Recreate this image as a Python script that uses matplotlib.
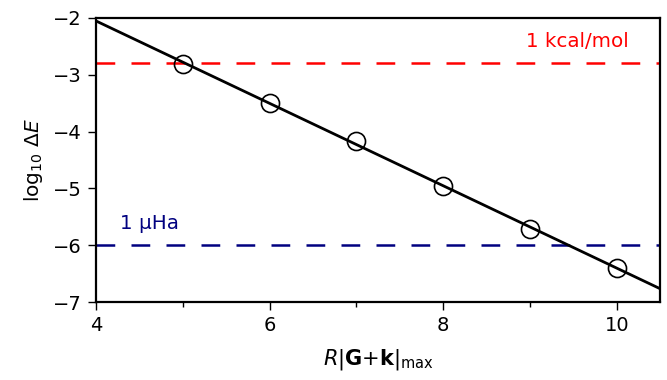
import numpy as np
import matplotlib
matplotlib.use("Agg")
import matplotlib.pyplot as plt
from matplotlib.ticker import MultipleLocator

# data
x_vals = [5, 6, 7, 8, 9, 10]
log_dE = [-2.81, -3.50, -4.17, -4.96, -5.71, -6.40]
kcal_level = -2.80
uha_level = -6.0
x_range = [4, 10.5]
xticks = [4, 6, 8, 10]
yticks = [-7, -6, -5, -4, -3, -2]

fig = plt.figure(figsize=(6.67, 3.8), dpi=100)
ax = fig.add_axes([0.144, 0.205, 0.846, 0.748])

coef = np.polyfit(x_vals, log_dE, 1)
xl = np.array(x_range)
ax.plot(xl, np.polyval(coef, xl), color='black', lw=2.0, zorder=3)
ax.plot(x_vals, log_dE, 'o', ms=13, mfc='none', mec='black', mew=1.2, zorder=4)

ax.axhline(kcal_level, color='red', lw=1.8, dashes=(7.5, 6.5), zorder=2)
ax.axhline(uha_level, color='navy', lw=1.8, dashes=(7.5, 6.5), zorder=2)
ax.text(9.54, -2.42, '1 kcal/mol', color='red', fontsize=14.3, ha='center', va='center')
ax.text(4.61, -5.62, '1 μHa', color='navy', fontsize=14.3, ha='center', va='center')

ax.set_xlim(*x_range)
ax.set_ylim(-7, -2)
ax.set_xticks(xticks)
ax.set_yticks(yticks)
ax.xaxis.set_minor_locator(MultipleLocator(1))
ax.tick_params(axis='both', which='major', labelsize=14, direction='out', length=6, width=1.0, pad=4)
ax.tick_params(axis='x', which='minor', direction='out', length=3.5, width=1.0)
ax.set_yticklabels(['−7', '−6', '−5', '−4', '−3', '−2'])
for s in ax.spines.values():
    s.set_linewidth(1.6)

ax.set_xlabel(r'$R|\mathbf{G}{+}\mathbf{k}|_{\mathrm{max}}$', fontsize=15, labelpad=9)
ax.set_ylabel(r'$\log_{10}\,\Delta E$', fontsize=14.5, labelpad=6)

fig.savefig('out.png', dpi=100)
